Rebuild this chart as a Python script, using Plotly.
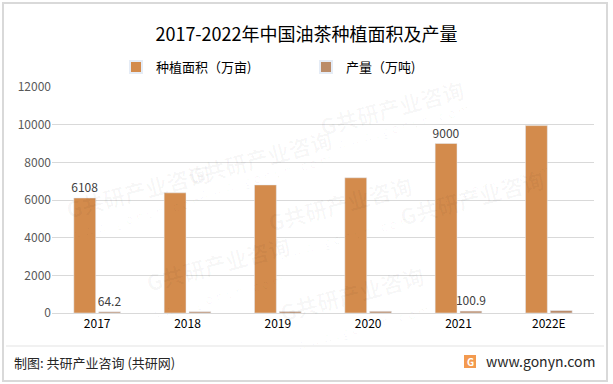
import plotly.graph_objects as go

years = ["2017", "2018", "2019", "2020", "2021", "2022E"]
area = [6108, 6380, 6800, 7180, 9000, 9950]
output = [64.2, 70, 80, 90, 100.9, 130]
area_labels = ["6108", "", "", "", "9000", ""]
output_labels = ["64.2", "", "", "", "100.9", ""]
y_ticks = [0, 2000, 4000, 6000, 8000, 10000, 12000]
y_tick_text = ["0", "2000", "4000", "6000", "8000", "10000", "12000"]

FONT = "Noto Sans CJK SC"
fig = go.Figure()
fig.add_trace(go.Bar(
    x=years, y=area, name="种植面积（万亩)", marker_color="#D38B4C",
    text=area_labels, textposition="outside", cliponaxis=False, constraintext="none",
    textfont=dict(size=12, color="#404040", family=FONT),
))
fig.add_trace(go.Bar(
    x=years, y=output, name="产量（万吨)", marker_color="#BB8C69",
    text=output_labels, textposition="outside", cliponaxis=False, constraintext="none",
    textfont=dict(size=12, color="#404040", family=FONT),
))

# faint watermarks
wm = []
for (wx, wy) in [(60, 190), (260, 120), (470, 70), (140, 300), (340, 240), (550, 160),
                 (430, 330)]:
    wm.append(dict(xref="paper", yref="paper", x=(wx - 52) / 542, y=(313 - wy) / 226,
                   text="<b>G共研产业咨询</b>", showarrow=False, textangle=-15,
                   font=dict(size=22, color="rgba(0,0,0,0.03)", family=FONT)))
    wm.append(dict(xref="paper", yref="paper", x=(wx - 52 + 5) / 542, y=(313 - wy - 26) / 226,
                   text="w w w . g o n y n . c o m", showarrow=False, textangle=-15,
                   font=dict(size=13, color="rgba(0,0,0,0.03)", family=FONT)))

fig.update_layout(
    width=613, height=384,
    margin=dict(l=52, r=19, t=87, b=71),
    paper_bgcolor="white", plot_bgcolor="white",
    font=dict(family=FONT, color="#404040"),
    title=dict(text="2017-2022年中国油茶种植面积及产量", x=0.5, xanchor="center",
               y=1 - 35 / 384, yanchor="middle",
               font=dict(size=18, color="#000000", family=FONT)),
    bargap=0.45, bargroupgap=0.12,
    showlegend=True,
    legend=dict(orientation="h", x=(116 - 52) / 542, xanchor="left", xref="paper",
                y=1 + (87 - 67) / 226, yanchor="middle", yref="paper",
                entrywidth=145, entrywidthmode="pixels",
                font=dict(size=13, color="#000000", family=FONT),
                itemsizing="constant", bgcolor="rgba(0,0,0,0)"),
    xaxis=dict(type="category", showgrid=False, showline=True, linecolor="#D9D9D9",
               linewidth=1, ticks="", tickfont=dict(size=12, color="#000000", family=FONT)),
    yaxis=dict(range=[0, 12000], tickvals=y_ticks, ticktext=y_tick_text,
               showgrid=True, gridcolor="#D9D9D9",
               gridwidth=1, zeroline=False, showline=False, ticks="",
               tickfont=dict(size=12, color="#595959", family=FONT)),
    shapes=[
        dict(type="rect", xref="paper", yref="paper",
             x0=(3 - 52) / 542, x1=(607 - 52) / 542, y0=(313 - 381) / 226, y1=(313 - 3) / 226,
             line=dict(color="#D9D9D9", width=2), layer="below"),
        dict(type="line", xref="paper", yref="paper",
             x0=(6 - 52) / 542, x1=(604 - 52) / 542, y0=(313 - 346) / 226, y1=(313 - 346) / 226,
             line=dict(color="#E3E3E3", width=1)),
        dict(type="rect", xref="paper", yref="paper",
             x0=(464 - 52) / 542, x1=(476 - 52) / 542, y0=(313 - 368) / 226, y1=(313 - 355) / 226,
             line=dict(width=0), fillcolor="#F39A4F"),
    ],
    annotations=wm + [
        dict(xref="paper", yref="paper", x=(12 - 52) / 542, y=(313 - 362) / 226,
             xanchor="left", yanchor="middle", showarrow=False,
             text="制图: 共研产业咨询 (共研网)",
             font=dict(size=13, color="#262626", family=FONT)),
        dict(xref="paper", yref="paper", x=(597 - 52) / 542, y=(313 - 361) / 226,
             xanchor="right", yanchor="middle", showarrow=False,
             text="www.gonyn.com",
             font=dict(size=14, color="#262626", family=FONT)),
        dict(xref="paper", yref="paper", x=(470 - 52) / 542, y=(313 - 361.5) / 226,
             xanchor="center", yanchor="middle", showarrow=False,
             text="<b>G</b>", font=dict(size=10, color="white", family=FONT)),
    ],
)
fig.write_html("out.html")
